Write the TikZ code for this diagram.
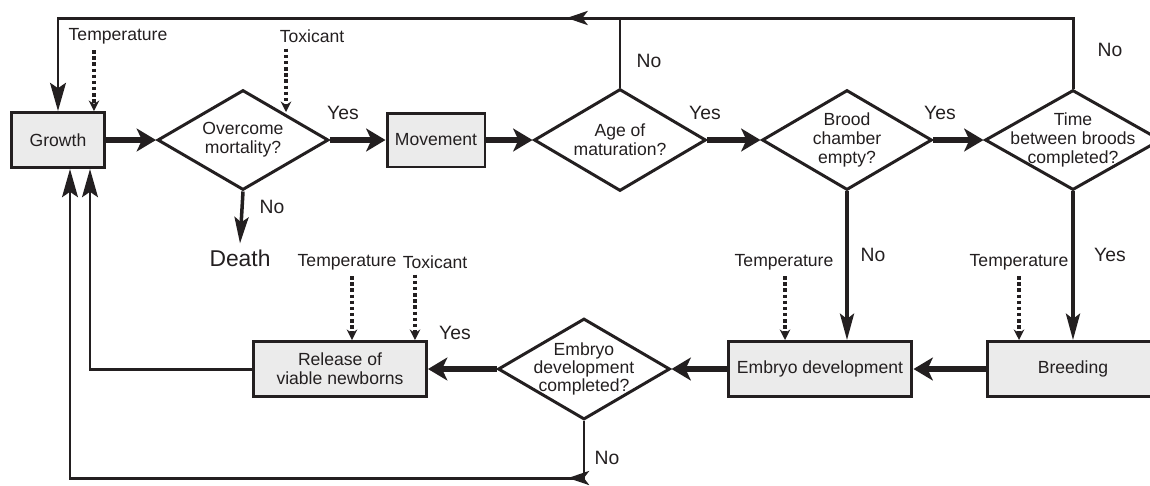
\documentclass[tikz,border=0pt]{standalone}
\usepackage{fontspec}
\setmainfont{Liberation Sans}
\usetikzlibrary{arrows.meta,shapes.geometric,decorations.markings}

\definecolor{ink}{HTML}{231F20}
\definecolor{boxgray}{HTML}{EBEBEB}

\begin{document}
\begin{tikzpicture}[x=0.02cm,y=-0.02cm,
  every node/.style={font=\fontsize{10}{11}\selectfont,text=ink},
  proc/.style={draw=ink,fill=boxgray,line width=1.7pt,minimum height=1.1cm},
  test/.style={diamond,draw=ink,line width=1.7pt,align=center,inner xsep=-20pt,inner ysep=-10pt},
  ans/.style={font=\fontsize{11}{13}\selectfont},
  main/.style={ink,line width=3pt,-{Stealth[length=11pt,width=13pt,inset=3pt]}},
  side/.style={ink,line width=2pt,-{Stealth[length=15pt,width=8pt,inset=3pt]}},
  back/.style={draw=ink,line width=1.7pt},
  backtip/.style={-{Stealth[length=16pt,width=9pt,inset=3pt]}},
  dot/.style={draw=ink,line width=1.9pt,dash pattern=on 2pt off 1.5pt,-{Stealth[length=6pt,width=6pt,inset=2pt]}},
  midtip/.style={postaction={decorate},decoration={markings,
    mark=at position #1 with {\arrow{Stealth[length=12pt,width=8pt,inset=3pt]}}}}]
  \useasboundingbox (0,0) rectangle (1150,485);

  % top row
  \node[proc,minimum width=1.88cm] (growth) at (58,140) {Growth};
  \node[test,minimum width=3.42cm,minimum height=2cm] (mort) at (243,140) {Overcome\\mortality?};
  \node[proc,minimum width=1.96cm,minimum height=1.08cm] (move) at (436,140) {Movement};
  \node[test,minimum width=3.44cm,minimum height=2.04cm] (mature) at (620,140) {Age of\\maturation?};
  \node[test,minimum width=3.4cm,minimum height=2cm] (chamber) at (847,140) {Brood\\chamber\\empty?};
  \node[test,minimum width=3.52cm,minimum height=2cm] (interval) at (1073,140) {Time\\between broods\\completed?};

  % bottom row
  \node[proc,minimum width=3.44cm] (breed) at (1073,369) {Breeding};
  \node[proc,minimum width=3.68cm] (embryo) at (820,369) {Embryo development};
  \node[test,minimum width=3.44cm,minimum height=2.02cm,font=\fontsize{10}{10.4}\selectfont] (done) at (584,369) {Embryo\\development\\completed?};
  \node[proc,minimum width=3.46cm,align=center] (release) at (340,369) {Release of\\viable newborns};
  \node[font=\fontsize{13}{15}\selectfont] (death) at (240,258) {Death};

  % drivers
  \node (tempA) at (118,36) {Temperature};
  \node (toxA) at (312,36) {Toxicant};
  \node (tempB) at (347,262) {Temperature};
  \node (toxB) at (435,262) {Toxicant};
  \node (tempC) at (784,262) {Temperature};
  \node (tempD) at (1019,262) {Temperature};

  % answers
  \node[ans] (y1) at (343,113) {Yes};
  \node[ans] (n1) at (272,207) {No};
  \node[ans] (n2) at (649,61) {No};
  \node[ans] (y2) at (705,113) {Yes};
  \node[ans] (y3) at (940,113) {Yes};
  \node[ans] (n3) at (1110,50) {No};
  \node[ans] (n4) at (873,255) {No};
  \node[ans] (y4) at (1110,255) {Yes};
  \node[ans] (y5) at (455,333) {Yes};
  \node[ans] (n5) at (607,458) {No};

  \coordinate (top) at (0,18);
  \coordinate (bot) at (0,478);
  \coordinate (g-in1) at ([xshift=0.24cm]growth.south);
  \coordinate (g-in2) at ([xshift=0.64cm]growth.south);
  \coordinate (g-temp) at ([xshift=0.72cm]growth.north);
  \coordinate (m-tox) at (286,112);
  \coordinate (r-temp) at ([xshift=0.24cm]release.north);
  \coordinate (r-tox) at ([xshift=1.5cm]release.north);
  \coordinate (e-temp) at ([xshift=-0.7cm]embryo.north);
  \coordinate (b-temp) at ([xshift=-1.08cm]breed.north);

  \path[main] (growth) edge (mort)
              (mort) edge (move)
              (move) edge (mature)
              (mature) edge (chamber)
              (chamber) edge (interval)
              (breed) edge (embryo)
              (embryo) edge (done)
              (done) edge (release);
  \path[side] (mort.south) edge (death.north)
              (chamber.south) edge (chamber.south |- embryo.north)
              (interval.south) edge (breed.north);

  \draw[back,backtip,midtip=11.54cm] (interval.north) |- (growth.north |- top) -- (growth.north);
  \draw[back] (mature.north) -- (mature.north |- top);
  \draw[back,backtip] (release.west) -| (g-in2);
  \draw[back,backtip,midtip=1.46cm] (done.south) -- (done.south |- bot) -| (g-in1);

  \draw[dot] (tempA.south -| g-temp) -- (g-temp);
  \draw[dot] (toxA.south -| m-tox) -- (m-tox);
  \draw[dot] (tempB.south -| r-temp) -- (r-temp);
  \draw[dot] (toxB.south -| r-tox) -- (r-tox);
  \draw[dot] (tempC.south -| e-temp) -- (e-temp);
  \draw[dot] (tempD.south -| b-temp) -- (b-temp);
\end{tikzpicture}
\end{document}
